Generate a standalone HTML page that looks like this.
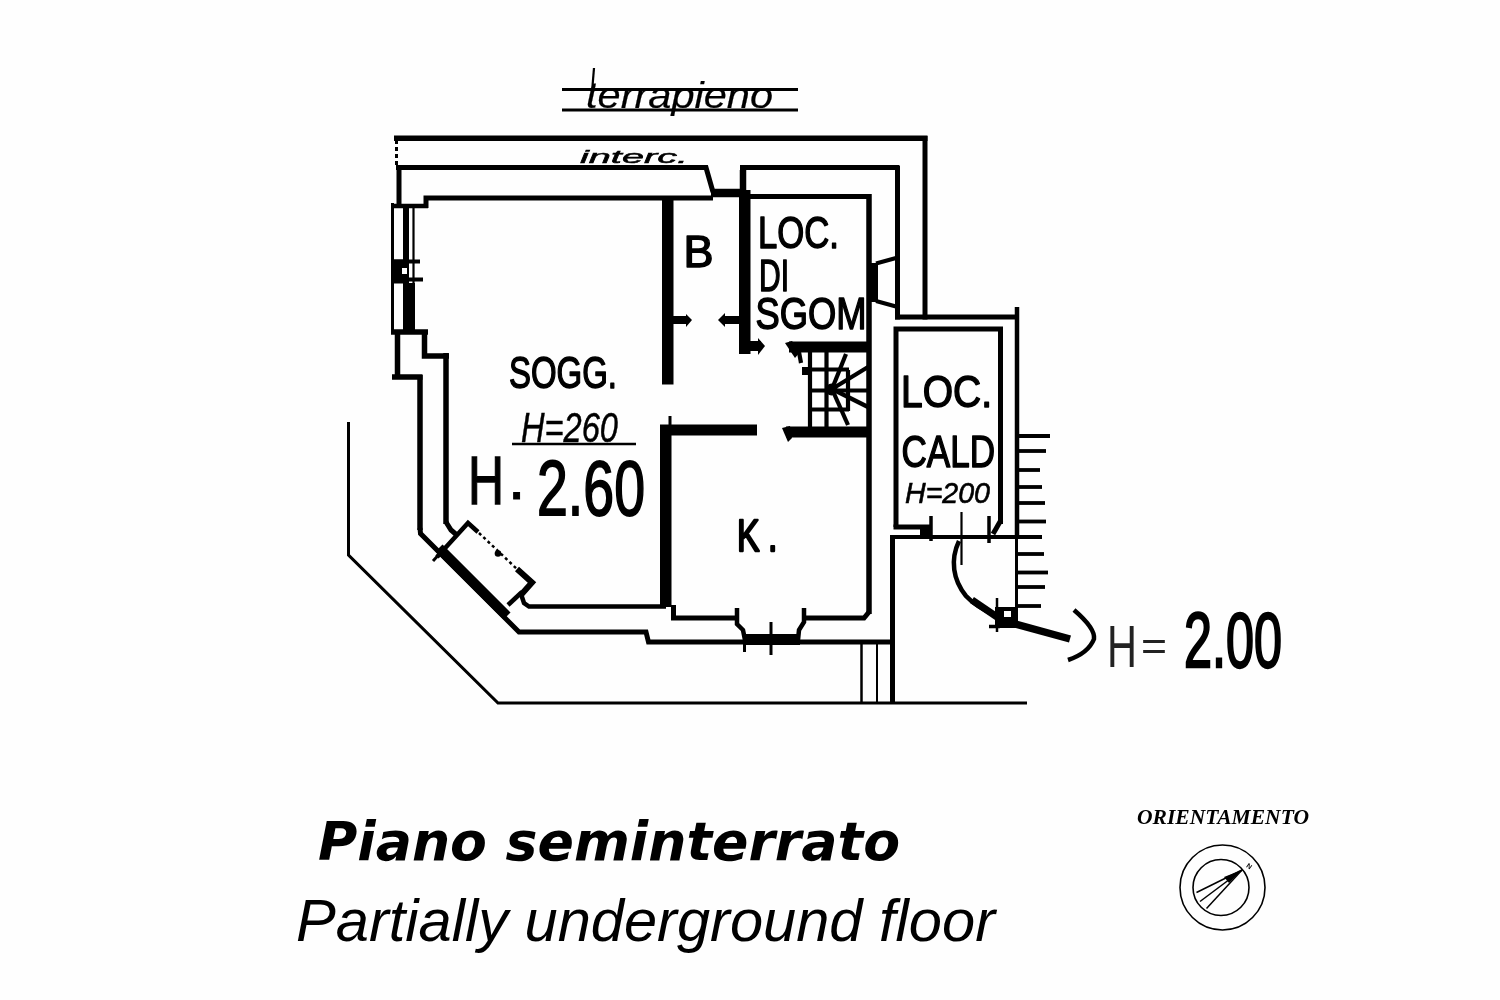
<!DOCTYPE html>
<html lang="it">
<head>
<meta charset="utf-8">
<title>Piano seminterrato</title>
<style>
html,body{margin:0;padding:0;background:#fefefe;}
body{width:1500px;height:1000px;overflow:hidden;position:relative;}
svg{position:absolute;left:0;top:0;display:block;}
.w{stroke:#000;fill:none;stroke-linecap:butt;stroke-linejoin:miter;}
.k{fill:#000;stroke:none;}
text{fill:#000;}
.din{font-family:"Liberation Sans",sans-serif;font-size:44.5px;stroke:#000;stroke-width:1.5px;stroke-linejoin:round;}
.hand{font-family:"Liberation Sans",sans-serif;font-style:italic;}
</style>
</head>
<body>
<svg width="1500" height="1000" viewBox="0 0 1500 1000">
<defs><filter id="soft" x="0" y="0" width="1500" height="1000" filterUnits="userSpaceOnUse"><feGaussianBlur stdDeviation="0.75"/></filter></defs>
<rect x="0" y="0" width="1500" height="1000" fill="#fefefe"/>
<g id="scan" filter="url(#soft)">

<!-- terrapieno -->
<g id="terrapieno">
<line class="w" x1="562" y1="89.5" x2="798" y2="89.5" stroke-width="3"/>
<line class="w" x1="562" y1="110" x2="798" y2="110" stroke-width="3"/>
<text class="hand" x="586" y="108" font-size="36" textLength="187" lengthAdjust="spacingAndGlyphs" stroke="#000" stroke-width="0.2">terrapieno</text>
<line class="w" x1="594" y1="68" x2="592" y2="92" stroke-width="2.2"/>
<text class="hand" x="580" y="163" font-size="19" textLength="108" lengthAdjust="spacingAndGlyphs" stroke="#000" stroke-width="0.5">interc.</text>
</g>

<!-- outer walls top -->
<g id="outer">
<polyline class="w" stroke-width="5.5" points="394,138.3 927.5,138.3"/>
<line class="w" x1="925" y1="136" x2="925" y2="319.5" stroke-width="5"/>
<line class="w" x1="396.5" y1="140" x2="396.5" y2="166" stroke-width="3" stroke-dasharray="4 3"/>
<polyline class="w" stroke-width="5" points="396,167.5 706,167.5 713,192"/>
<line class="w" x1="711" y1="193" x2="742" y2="193" stroke-width="8.5"/>
<polyline class="w" stroke-width="5" points="742.5,196 742.5,167.5 899.5,167.5"/>
<line class="w" x1="743" y1="170" x2="743" y2="196" stroke-width="6.5"/>
<line class="w" x1="897.5" y1="166" x2="897.5" y2="319.5" stroke-width="5"/>
<polyline class="w" stroke-width="5" points="895,317 1019,317"/>
<line class="w" x1="1017" y1="307" x2="1017" y2="539" stroke-width="4.5"/>
<line class="w" x1="1016.5" y1="539" x2="1016.5" y2="626" stroke-width="3"/>
</g>

<!-- inner room top lines -->
<g id="inner-top">
<polyline class="w" stroke-width="5" points="426,208 426,198 713,198"/>
<polyline class="w" stroke-width="5" points="748,196.5 871,196.5"/>
<line class="w" x1="869" y1="194" x2="869" y2="614" stroke-width="5.5"/>
</g>

<!-- left window -->
<g id="left-window">
<line class="w" x1="399" y1="167" x2="399" y2="206" stroke-width="5"/>
<line class="w" x1="391" y1="206" x2="428" y2="206" stroke-width="4.5"/>
<line class="w" x1="392.5" y1="203" x2="392.5" y2="333" stroke-width="3"/>
<line class="w" x1="406" y1="206" x2="406" y2="331" stroke-width="6"/>
<line class="w" x1="413.5" y1="206" x2="413.5" y2="331" stroke-width="2.2"/>
<rect class="k" x="392" y="259.5" width="12" height="24"/>
<line class="w" x1="392" y1="261.5" x2="420" y2="261.5" stroke-width="4"/>
<line class="w" x1="392" y1="279.5" x2="423" y2="279.5" stroke-width="4"/>
<rect x="402" y="268" width="5" height="6" fill="#fefefe"/>
<rect class="k" x="403" y="283" width="12" height="48"/>
<line class="w" x1="391" y1="332" x2="428" y2="332" stroke-width="5.5"/>
<polyline class="w" stroke-width="5.5" points="424.5,332 424.5,356 449,356"/>
<line class="w" x1="446" y1="353" x2="446" y2="524" stroke-width="5.5"/>
<polyline class="w" stroke-width="5.5" points="397.5,332 397.5,377 392,377 422.5,377"/>
<line class="w" x1="420" y1="375" x2="420" y2="530" stroke-width="5.5"/>
</g>

<!-- diagonal and bottom -->
<g id="diag">
<polyline class="w" stroke-width="5" points="420,528 420.5,533.5 519,632 646,632 648.5,642 893,642"/>
<line class="w" x1="439" y1="548" x2="507" y2="616" stroke-width="10"/>
<line class="w" x1="433" y1="561" x2="443" y2="550" stroke-width="3"/>
<polyline class="w" stroke-width="5" points="446,522 451,530 458,536"/>
<polyline class="w" stroke-width="4.5" points="437,557 468,523 478,532"/>
<line class="w" x1="479" y1="533" x2="518" y2="570" stroke-width="2.5" stroke-dasharray="3 3"/>
<circle class="k" cx="498" cy="553.5" r="3.3"/>
<polyline class="w" stroke-width="6" points="517,569 532,582.5 520,596"/>
<polyline class="w" stroke-width="4.5" points="522,592 508,605"/>
<polyline class="w" stroke-width="4.5" points="521,594 524,603 529,606.5 666,606.5"/>
<polyline class="w" stroke-width="3" points="348.5,422 348.5,555 498,703 1027,703"/>
<line class="w" x1="861.5" y1="642" x2="861.5" y2="703" stroke-width="2.5"/>
<line class="w" x1="877" y1="642" x2="877" y2="703" stroke-width="2"/>
<line class="w" x1="892.5" y1="535" x2="892.5" y2="704" stroke-width="5"/>
</g>

<!-- thick partitions -->
<g id="partitions">
<rect class="k" x="662" y="197" width="11.5" height="187.5"/>
<rect class="k" x="671" y="316" width="17" height="8"/>
<polygon class="k" points="686,314 692,320 686,327"/>
<rect class="k" x="739" y="190" width="11.5" height="164"/>
<rect class="k" x="723" y="316" width="18" height="8"/>
<polygon class="k" points="725,313 718,320 725,327"/>
<rect class="k" x="741" y="341" width="20" height="10"/>
<polygon class="k" points="758,338 765,346 758,355"/>
<rect class="k" x="660" y="425" width="11.5" height="182"/>
<rect class="k" x="660" y="424.5" width="97" height="11"/>
<line class="w" x1="670" y1="416" x2="670" y2="428" stroke-width="3"/>
</g>

<!-- staircase -->
<g id="stairs">
<rect class="k" x="789" y="341.5" width="80" height="11"/>
<polygon class="k" points="785,343 792,341 800,352 795,358 791,352"/>
<rect class="k" x="786" y="426.5" width="83" height="11"/>
<polygon class="k" points="782,428 790,426 792,438 788,442"/>
<g class="w" stroke-width="4.2">
<line x1="810" y1="352" x2="810" y2="427"/>
<line x1="826.5" y1="352" x2="826.5" y2="427"/>
<line x1="848" y1="370" x2="848" y2="411"/>
<line x1="802" y1="369.5" x2="849" y2="369.5"/>
<line x1="808" y1="390.5" x2="868" y2="390.5"/>
<line x1="808" y1="409.5" x2="849" y2="409.5"/>
<line x1="832" y1="389" x2="846" y2="354"/>
<line x1="832" y1="389" x2="868" y2="367"/>
<line x1="832" y1="389" x2="868" y2="407"/>
<line x1="832" y1="389" x2="848" y2="425"/>
<line x1="799" y1="352" x2="801" y2="363"/>
</g>
<circle class="k" cx="831.5" cy="389.5" r="6"/>
<rect class="k" x="802" y="367" width="8" height="8"/>
</g>

<!-- K room bottom -->
<g id="kbottom">
<polyline class="w" stroke-width="5" points="673.5,605 673.5,618 739,618"/>
<polyline class="w" stroke-width="5" points="802,618 864,618 869,612"/>
<polyline class="w" stroke-width="4.5" points="737,608 737,624 743,630 745,640"/>
<polyline class="w" stroke-width="4.5" points="804,608 804,622 799,630 798,640"/>
<rect class="k" x="743" y="634" width="57" height="11"/>
<line class="w" x1="744.5" y1="640" x2="744.5" y2="652" stroke-width="3"/>
<line class="w" x1="771" y1="622" x2="771" y2="655" stroke-width="3"/>
</g>

<!-- right window -->
<g id="right-window">
<rect class="k" x="867" y="263" width="11" height="39"/>
<line class="w" x1="876" y1="263.5" x2="896" y2="258" stroke-width="4"/>
<line class="w" x1="876" y1="301" x2="896" y2="306.5" stroke-width="4"/>
</g>

<!-- LOC CALD room -->
<g id="cald">
<polyline class="w" stroke-width="5" points="896,527 896,329 1000.5,329 1000.5,524" stroke-linejoin="miter"/>
<polyline class="w" stroke-width="5" points="893.5,527 932,527"/>
<rect class="k" x="920" y="527" width="12" height="8"/>
<line class="w" x1="891" y1="537" x2="1042" y2="537" stroke-width="4"/>
<line class="w" x1="931" y1="516" x2="931" y2="541" stroke-width="3.5"/>
<line class="w" x1="961.5" y1="512" x2="961.5" y2="565" stroke-width="2.2"/>
<line class="w" x1="989" y1="516" x2="989" y2="543" stroke-width="3.5"/>
<line class="w" x1="1001" y1="520" x2="993" y2="534" stroke-width="5"/>
<path class="w" stroke-width="4.5" d="M959,541 C950,560 953,580 966,596 C976,607 990,613 1000,618"/>
<path class="w" stroke-width="7" d="M972,600 L1000,619"/>
<rect class="k" x="995" y="607" width="22" height="21"/>
<rect x="1004" y="611" width="7" height="6" fill="#fefefe"/>
<line class="w" x1="989" y1="626.5" x2="1000" y2="626.5" stroke-width="3.5"/>
<line class="w" x1="997" y1="598" x2="997" y2="632" stroke-width="2.5"/>
<path class="w" stroke-width="7.5" d="M1008,622 L1070,639"/>
<path class="w" stroke-width="4.5" stroke-linecap="round" d="M1074,610 C1088,622 1095,632 1094,639 C1090,649 1080,656 1068,660"/>
<g class="w" stroke-width="3.8">
<line x1="1017" y1="436" x2="1050" y2="436"/>
<line x1="1017" y1="451" x2="1046" y2="451"/>
<line x1="1017" y1="470" x2="1040" y2="470"/>
<line x1="1017" y1="487" x2="1042" y2="487"/>
<line x1="1017" y1="503" x2="1045" y2="503"/>
<line x1="1017" y1="521.5" x2="1046" y2="521.5"/>
<line x1="1017" y1="554" x2="1044" y2="554"/>
<line x1="1017" y1="572.5" x2="1048" y2="572.5"/>
<line x1="1017" y1="587" x2="1045" y2="587"/>
<line x1="1017" y1="606" x2="1041" y2="606"/>
</g>
</g>

<!-- room labels -->
<g id="labels">
<text class="din" x="683.5" y="267" textLength="30" lengthAdjust="spacingAndGlyphs">B</text>
<text class="din" x="758" y="248" textLength="81" lengthAdjust="spacingAndGlyphs">LOC.</text>
<text class="din" x="759" y="291" textLength="30" lengthAdjust="spacingAndGlyphs">DI</text>
<text class="din" x="755.5" y="329" textLength="111" lengthAdjust="spacingAndGlyphs">SGOM</text>
<text class="din" x="509" y="387.5" textLength="108" lengthAdjust="spacingAndGlyphs" font-size="48">SOGG.</text>
<text class="din" transform="translate(737,551) scale(0.76,1)" letter-spacing="11" style="stroke-width:2.3px">K.</text>
<text class="din" x="901" y="407" textLength="91" lengthAdjust="spacingAndGlyphs">LOC.</text>
<text class="din" x="901.5" y="466.5" textLength="93.5" lengthAdjust="spacingAndGlyphs" font-size="46">CALD</text>
<text class="hand" x="521" y="442" font-size="42" textLength="97" lengthAdjust="spacingAndGlyphs" stroke="#000" stroke-width="0.5">H=260</text>
<line class="w" x1="512" y1="444" x2="636" y2="444" stroke-width="2.5"/>
<text x="468" y="503.5" font-family="'Liberation Sans',sans-serif" font-size="68" textLength="36" lengthAdjust="spacingAndGlyphs" stroke="#000" stroke-width="1.4">H</text>
<text x="508" y="499" font-family="'Liberation Sans',sans-serif" font-size="62" stroke="#000" stroke-width="1">.</text>
<text x="537" y="514.5" font-family="'Liberation Sans',sans-serif" font-size="77" textLength="108" lengthAdjust="spacingAndGlyphs" stroke="#000" stroke-width="1.8">2.60</text>
<text class="hand" x="905" y="503" font-size="30" textLength="85" lengthAdjust="spacingAndGlyphs" stroke="#000" stroke-width="0.6">H=200</text>
<text x="1107" y="667" font-family="'Liberation Sans',sans-serif" font-size="60" textLength="30" lengthAdjust="spacingAndGlyphs" fill="#222" style="fill:#222">H</text>
<text x="1141" y="660" font-family="'Liberation Sans',sans-serif" font-size="40" textLength="26" lengthAdjust="spacingAndGlyphs" style="fill:#222">=</text>
<text x="1184" y="667" font-family="'Liberation Sans',sans-serif" font-size="78" textLength="98" lengthAdjust="spacingAndGlyphs" stroke="#000" stroke-width="2.4">2.00</text>
</g>

<!-- captions -->
<g id="captions">
<text x="318" y="860" font-family="'DejaVu Sans','Liberation Sans',sans-serif" font-weight="bold" font-style="italic" font-size="53.5" textLength="582" lengthAdjust="spacingAndGlyphs">Piano seminterrato</text>
<text x="1137" y="824" font-family="'Liberation Serif','DejaVu Serif',serif" font-weight="bold" font-style="italic" font-size="20.5" textLength="172" lengthAdjust="spacingAndGlyphs">ORIENTAMENTO</text>
<circle class="w" cx="1222.5" cy="887.5" r="42.5" stroke-width="1.6"/>
<circle class="w" cx="1221" cy="887.5" r="28" stroke-width="1.6"/>
<g class="w" stroke-width="1.5">
<line x1="1242" y1="870" x2="1196.5" y2="892.5"/>
<line x1="1242" y1="870" x2="1200" y2="901.5"/>
<line x1="1242" y1="870" x2="1206.5" y2="908.5"/>
</g>
<polygon class="k" points="1242,870 1224,877 1229,883"/>
<text x="1247" y="869" font-family="'Liberation Sans',sans-serif" font-size="7" font-weight="bold" transform="rotate(35 1250 866)">N</text>
</g>
</g>
<g id="caption-en">
<text x="296" y="941" font-family="'Liberation Sans',sans-serif" font-style="italic" font-size="60" textLength="699" lengthAdjust="spacingAndGlyphs">Partially underground floor</text>
</g>
</svg>
</body>
</html>
